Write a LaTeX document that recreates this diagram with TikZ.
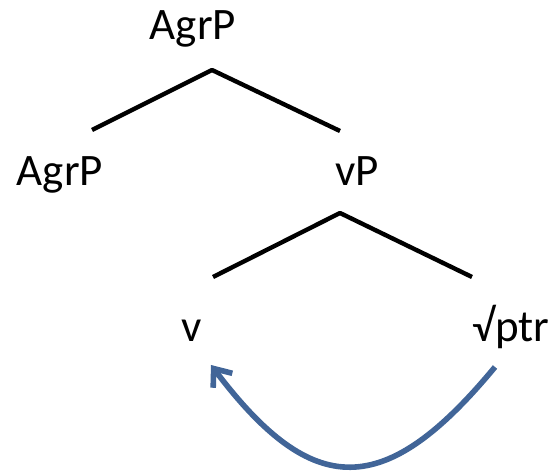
\documentclass[tikz,border=0pt]{standalone}
\usepackage{fontspec}
\setmainfont{Carlito}
\usetikzlibrary{arrows.meta}

\definecolor{movecol}{RGB}{65,101,152}

\tikzset{
  cat/.style={anchor=base,inner sep=0pt,font=\fontsize{22.5}{27}\selectfont},
  branch/.style={line width=2.2pt},
  move/.style={line width=2.8pt,draw=movecol,-{Straight Barb[length=7.5pt,width=12pt]}}
}

\begin{document}
\begin{tikzpicture}[x=0.5pt,y=-0.5pt,line join=round]
                \useasboundingbox (0,0) rectangle (559,474);
                \node[cat] (agrp-top)  at (193,40)  {AgrP};
                \node[cat] (agrp-left) at (60,186)  {AgrP};
                \node[cat] (vp)        at (357,186) {vP};
                \node[cat] (v)         at (192,342) {v};
                \node[cat] (root)      at (511,342) {√ptr};
                \coordinate (top-apex)  at (212,70);
                \coordinate (top-left)  at (92,130);
                \coordinate (top-right) at (340,131);
                \coordinate (vp-apex)   at (340,213);
                \coordinate (vp-left)   at (213,277);
                \coordinate (vp-right)  at (472,277);
                \draw[branch] (top-left)--(top-apex)--(top-right);
                \draw[branch] (vp-left)--(vp-apex)--(vp-right);
                \coordinate (move-from) at (495,367);
                \coordinate (move-to)   at (211,365);
                \draw[move] (move-from) .. controls (385,500) and (313,500) .. (move-to);
              \end{tikzpicture}
\end{document}
